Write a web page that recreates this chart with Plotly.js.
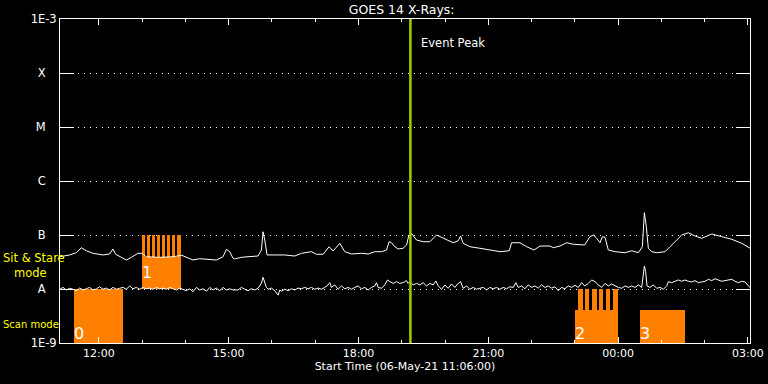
<!DOCTYPE html>
<html>
<head>
<meta charset="utf-8">
<script src="https://cdn.plot.ly/plotly-3.0.1.min.js"></script>
<style>html,body{margin:0;padding:0;background:#000;}#chart{width:768px;height:384px;}</style>
</head>
<body>
<div id="chart"></div>
<script>
// ---- data ----
const startTime = '2021-05-06 11:06:00';
const endTime = '2021-05-07 03:03:00';
const eventPeak = '2021-05-06 19:12:00';

// GOES long channel (minutes after start, W/m^2)
const longMin = [0,13.3,22.6,29.6,36.5,45.7,59.5,68.8,73.4,77.2,85.1,92.0,99.0,108.1,113.3,119.8,138.2,156.7,168.8,175.3,184.5,193.8,203.1,216.9,226.1,230.8,235.4,240.0,242.3,251.6,260.8,274.7,279.4,281.6,284.0,287.2,297.9,311.7,325.6,334.9,348.8,355.7,364.9,373.2,378.8,388.1,395.0,404.3,418.2,427.4,436.7,446.0,452.9,456.5,459.8,464.4,469.0,475.9,480.7,483.9,487.6,494.5,503.7,513.0,522.3,531.5,545.3,552.3,555.6,559.2,568.5,582.4,596.3,610.2,623.1,626.4,637.9,647.2,657.4,665.7,679.6,684.1,693.4,702.7,711.9,727.7,735.1,739.7,744.4,749.0,752.2,755.9,760.5,769.8,783.7,793.0,802.1,807.7,810.5,813.2,816.0,820.7,827.7,839.2,846.1,853.1,862.4,871.5,880.8,890.1,904.0,917.9,931.8,945.6,957.2];
const longFlux = [3.96e-8,4.27e-8,4.70e-8,5.82e-8,5.11e-8,4.58e-8,4.27e-8,4.45e-8,5.51e-8,4.39e-8,3.86e-8,3.44e-8,3.86e-8,4.58e-8,4.58e-8,3.96e-8,3.86e-8,3.96e-8,4.21e-8,3.86e-8,3.44e-8,3.64e-8,3.55e-8,3.44e-8,3.96e-8,5.43e-8,4.91e-8,3.71e-8,3.60e-8,3.86e-8,3.96e-8,4.08e-8,5.27e-8,1.15e-7,8.07e-8,4.27e-8,4.27e-8,4.27e-8,4.08e-8,4.58e-8,4.91e-8,4.39e-8,4.39e-8,6.07e-8,5.06e-8,7.01e-8,4.91e-8,4.45e-8,4.58e-8,4.45e-8,4.91e-8,4.91e-8,5.27e-8,7.51e-8,7.19e-8,6.07e-8,5.51e-8,5.68e-8,6.53e-8,1.0e-7,1.07e-7,8.07e-8,7.51e-8,7.51e-8,1.0e-7,8.69e-8,7.19e-8,7.83e-8,9.57e-8,7.01e-8,6.07e-8,5.68e-8,5.27e-8,4.91e-8,5.11e-8,7.19e-8,7.19e-8,6.07e-8,5.27e-8,6.25e-8,6.25e-8,5.82e-8,6.25e-8,7.19e-8,6.73e-8,6.53e-8,9.31e-8,1.0e-7,8.69e-8,7.19e-8,9.31e-8,9.06e-8,5.27e-8,4.91e-8,4.70e-8,5.11e-8,4.70e-8,6.07e-8,2.59e-7,1.43e-7,5.68e-8,4.91e-8,4.70e-8,4.91e-8,6.07e-8,7.51e-8,1.0e-7,1.10e-7,9.57e-8,8.69e-8,1.045e-7,9.31e-8,8.32e-8,7.01e-8,5.68e-8];

// GOES short channel (minutes after start, W/m^2)
const shortMin = [0,4.1,8.7,13.3,17.9,22.6,27.2,31.8,36.5,41.1,45.7,50.3,55.0,59.6,64.2,68.8,73.5,78.1,82.7,87.4,92.0,96.6,101.2,105.9,110.5,115.1,119.7,124.4,129.0,133.6,138.3,142.9,147.5,152.1,156.8,161.4,166.0,170.6,175.3,179.9,184.5,189.2,193.8,198.4,203.0,207.7,212.3,216.9,221.5,226.2,230.8,235.4,240.0,
246.9,251.6,256.2,260.8,265.4,270.1,274.7,279.3,281.6,283.9,286.3,288.6,293.2,297.8,302.5,304.8,307.1,311.7,316.3,321.0,325.6,330.2,334.8,339.5,344.1,348.7,353.3,358.0,362.6,367.2,371.9,374.2,376.5,381.1,385.7,390.4,395.0,399.6,404.2,408.9,413.5,418.1,422.8,427.4,432.0,436.6,439.0,441.3,445.9,450.5,454.2,457.5,462.1,466.7,471.3,476.0,480.6,482.9,
485.2,489.8,494.5,499.1,503.7,508.3,513.0,517.6,521.3,524.5,529.2,533.8,538.4,543.0,547.7,552.3,555.5,559.2,563.9,568.5,573.1,577.7,582.4,587.0,591.6,596.2,600.9,605.5,610.1,614.8,619.4,624.0,628.6,632.3,635.6,640.2,644.8,649.4,654.1,658.7,663.3,667.9,672.6,677.2,681.8,686.5,691.1,695.7,700.3,705.0,709.6,714.2,718.8,723.5,727.6,
732.7,737.4,742.0,746.6,751.2,755.9,760.5,765.1,769.7,774.4,779.0,783.6,788.2,792.9,797.5,802.1,806.8,809.1,810.5,812.3,814.2,818.3,823.0,827.6,832.2,836.8,841.5,843.8,848.4,853.0,857.7,862.3,866.9,871.5,876.2,880.8,885.4,890.0,894.7,899.3,903.9,908.5,913.2,917.8,922.4,927.1,931.7,936.3,940.9,945.6,950.2,954.8,957.1];
const shortFlux = [9.9e-9,1.07e-8,9.6e-9,1.03e-8,9.9e-9,9.3e-9,1.04e-8,9.6e-9,1.01e-8,1.07e-8,9.6e-9,1.0e-8,1.10e-8,9.9e-9,1.04e-8,9.6e-9,1.07e-8,9.9e-9,1.03e-8,1.07e-8,9.9e-9,1.14e-8,1.01e-8,1.07e-8,9.9e-9,1.07e-8,1.01e-8,1.04e-8,9.9e-9,1.07e-8,1.01e-8,1.04e-8,9.9e-9,1.07e-8,1.01e-8,9.6e-9,1.04e-8,9.9e-9,9.3e-9,1.01e-8,8.9e-9,1.07e-8,9.6e-9,1.01e-8,9.1e-9,1.07e-8,9.6e-9,1.04e-8,9.3e-9,1.07e-8,9.6e-9,1.01e-8,9.6e-9,
9.6e-9,1.07e-8,9.9e-9,9.3e-9,1.01e-8,9.6e-9,1.03e-8,1.27e-8,1.65e-8,1.37e-8,1.07e-8,9.9e-9,1.04e-8,9.3e-9,7.7e-9,9.6e-9,9.1e-9,9.9e-9,9.3e-9,1.01e-8,9.6e-9,1.04e-8,1.01e-8,1.07e-8,1.01e-8,1.07e-8,9.9e-9,1.04e-8,9.9e-9,1.07e-8,1.19e-8,1.31e-8,1.07e-8,1.19e-8,9.9e-9,1.14e-8,1.01e-8,1.07e-8,9.9e-9,1.07e-8,1.14e-8,1.01e-8,1.07e-8,9.6e-9,1.07e-8,1.14e-8,1.31e-8,1.07e-8,1.03e-8,1.19e-8,1.47e-8,1.37e-8,1.27e-8,1.37e-8,1.27e-8,1.31e-8,1.43e-8,1.27e-8,
1.37e-8,1.19e-8,1.27e-8,1.19e-8,1.31e-8,1.14e-8,1.27e-8,1.19e-8,1.41e-8,1.14e-8,9.9e-9,1.19e-8,1.03e-8,1.24e-8,1.07e-8,1.27e-8,1.37e-8,1.03e-8,1.14e-8,9.9e-9,1.07e-8,9.9e-9,1.04e-8,1.07e-8,9.6e-9,1.07e-8,1.01e-8,1.07e-8,9.9e-9,1.07e-8,1.01e-8,1.10e-8,1.07e-8,1.31e-8,1.07e-8,1.14e-8,1.01e-8,1.19e-8,1.07e-8,1.14e-8,1.04e-8,1.19e-8,1.07e-8,1.14e-8,1.04e-8,1.10e-8,9.3e-9,1.07e-8,1.01e-8,1.14e-8,1.07e-8,1.17e-8,1.07e-8,1.31e-8,1.14e-8,
1.27e-8,1.47e-8,1.37e-8,1.19e-8,1.07e-8,1.27e-8,1.14e-8,1.24e-8,1.14e-8,1.07e-8,1.03e-8,1.14e-8,1.07e-8,1.14e-8,1.07e-8,1.19e-8,1.07e-8,2.09e-8,2.67e-8,2.09e-8,1.14e-8,1.07e-8,1.19e-8,1.03e-8,1.07e-8,9.9e-9,1.14e-8,1.37e-8,1.31e-8,1.39e-8,1.47e-8,1.39e-8,1.47e-8,1.39e-8,1.35e-8,1.43e-8,1.31e-8,1.35e-8,1.39e-8,1.51e-8,1.43e-8,1.55e-8,1.47e-8,1.39e-8,1.43e-8,1.47e-8,1.51e-8,1.39e-8,1.31e-8,1.39e-8,1.35e-8,1.14e-8,1.07e-8];

// observing blocks (0: scan, 1: sit & stare, 2,3: scan)
const blockLabels = ['0','1','2','3'];
const blockStart = ['2021-05-06 11:25:00','2021-05-06 12:59:20','2021-05-06 23:00:20','2021-05-07 00:30:30'];
const blockEnd   = ['2021-05-06 12:34:00','2021-05-06 13:54:20','2021-05-06 23:59:30','2021-05-07 01:32:30'];
const blockBase  = [1e-9, 1e-8, 1e-9, 1e-9];
const blockTop   = [1e-8, 3.9e-8, 4.1e-9, 4.1e-9];

// raster sub-exposures
const rasterStart = ['2021-05-06 12:59:20','2021-05-06 13:06:12','2021-05-06 13:13:06','2021-05-06 13:20:06','2021-05-06 13:27:00','2021-05-06 13:33:54','2021-05-06 13:40:54','2021-05-06 13:47:48',
  '2021-05-06 23:05:06','2021-05-06 23:14:06','2021-05-06 23:23:54','2021-05-06 23:34:00','2021-05-06 23:43:18','2021-05-06 23:53:24'];
const rasterEnd = ['2021-05-06 13:04:24','2021-05-06 13:11:18','2021-05-06 13:18:18','2021-05-06 13:25:12','2021-05-06 13:32:12','2021-05-06 13:39:06','2021-05-06 13:46:00','2021-05-06 13:54:06',
  '2021-05-06 23:11:00','2021-05-06 23:20:06','2021-05-06 23:30:24','2021-05-06 23:39:30','2021-05-06 23:49:18','2021-05-06 23:59:30'];
const rasterBase = [3.9e-8,3.9e-8,3.9e-8,3.9e-8,3.9e-8,3.9e-8,3.9e-8,3.9e-8, 4.1e-9,4.1e-9,4.1e-9,4.1e-9,4.1e-9,4.1e-9];
const rasterTop  = [1e-7,1e-7,1e-7,1e-7,1e-7,1e-7,1e-7,1e-7, 1e-8,1e-8,1e-8,1e-8,1e-8,1e-8];

const yTickVals = [1e-9,1e-8,1e-7,1e-6,1e-5,1e-4,1e-3];
const yTickText = ['1E-9','A','B','C','M','X','1E-3'];

// ---- helpers ----
function ms(s){ const p = s.split(/[- :]/).map(Number); return Date.UTC(p[0],p[1]-1,p[2],p[3],p[4],p[5]||0); }
function fmt(t){ return new Date(t).toISOString().replace('T',' ').slice(0,19); }
const t0 = ms(startTime);
const toTime = m => fmt(t0 + m*60000);

const ORANGE = '#ff8000';
const pad = s => s.length === 1 ? s + '\u00a0\u00a0\u00a0' : s;

const traces = [
  {type:'bar', x: blockStart, width: blockStart.map((s,i)=>ms(blockEnd[i])-ms(s)), offset: 0,
   base: blockBase, y: blockTop.map((v,i)=>v-blockBase[i]), marker:{color:ORANGE, line:{width:0}}, hoverinfo:'skip'},
  {type:'bar', x: rasterStart, width: rasterStart.map((s,i)=>ms(rasterEnd[i])-ms(s)), offset: 0,
   base: rasterBase, y: rasterTop.map((v,i)=>v-rasterBase[i]), marker:{color:ORANGE, line:{width:0}}, hoverinfo:'skip'},
  {type:'scatter', mode:'lines', x: longMin.map(toTime), y: longFlux, line:{color:'#ffffff', width:1}},
  {type:'scatter', mode:'lines', x: shortMin.map(toTime), y: shortFlux, line:{color:'#ffffff', width:1}}
];

const annotations = [
  {text:'Sit &amp; Stare<br>\u00a0\u00a0\u00a0mode', xref:'paper', yref:'paper', x:-0.0855, y:0.2407, xanchor:'left', yanchor:'middle', align:'left', showarrow:false, font:{color:'#ffff00', size:11.5}},
  {text:'Scan mode', xref:'paper', yref:'paper', x:-0.0855, y:0.0586, xanchor:'left', yanchor:'middle', showarrow:false, font:{color:'#ffff00', size:10}},
  {text:'Event Peak', xref:'x', yref:'paper', x:eventPeak, y:0.926, xanchor:'left', yanchor:'middle', xshift:9, showarrow:false, font:{color:'#ffffff', size:11.5}}
];
const labelShift = [-2, 5, -2, -2];
blockLabels.forEach((lab,i)=>{
  annotations.push({text:lab, xref:'x', yref:'y', x:blockStart[i], y:Math.log10(blockBase[i]), xanchor:'left', yanchor:'bottom',
    yshift:labelShift[i], xshift:-2, showarrow:false, font:{color:'#ffffff', size:16}});
});

const layout = {
  width:768, height:384,
  margin:{l:60, r:18, t:19, b:41, pad:0},
  paper_bgcolor:'#000000', plot_bgcolor:'#000000',
  font:{family:'DejaVu Sans, sans-serif', color:'#ffffff', size:11},
  showlegend:false, barmode:'overlay', bargap:0,
  title:{text:'GOES 14 X-Rays:', xref:'container', yref:'container', x:0.523, y:0.975, xanchor:'center', yanchor:'middle', font:{size:12.5, color:'#ffffff'}},
  xaxis:{type:'date', range:[startTime, endTime], tickformat:'%H:%M', tick0:'2021-05-06 12:00:00', dtick:3*3600000,
    ticks:'inside', ticklen:6, tickwidth:1, tickcolor:'#ffffff', showline:true, linecolor:'#ffffff', linewidth:1, mirror:'allticks',
    showgrid:false, zeroline:false, tickfont:{size:11, color:'#ffffff'},
    minor:{dtick:3600000, tick0:'2021-05-06 12:00:00', ticks:'inside', ticklen:3, tickcolor:'#ffffff', showgrid:false},
    title:{text:'Start Time (06-May-21 11:06:00)', standoff:3, font:{size:11, color:'#ffffff'}}},
  yaxis:{type:'log', range:[-9,-3], tickvals:yTickVals, ticktext:yTickText.map(pad),
    ticks:'inside', ticklen:14, tickwidth:1, tickcolor:'#ffffff', showline:true, linecolor:'#ffffff', linewidth:1, mirror:'allticks',
    showgrid:true, gridcolor:'#ffffff', gridwidth:1, griddash:'1px,5px', zeroline:false, tickfont:{size:11.5, color:'#ffffff'}},
  shapes:[{type:'line', xref:'x', yref:'paper', x0:eventPeak, x1:eventPeak, y0:0, y1:1, line:{color:'#a0d000', width:2.5}}],
  annotations: annotations
};

Plotly.newPlot('chart', traces, layout, {staticPlot:true, displayModeBar:false});
</script>
</body>
</html>
